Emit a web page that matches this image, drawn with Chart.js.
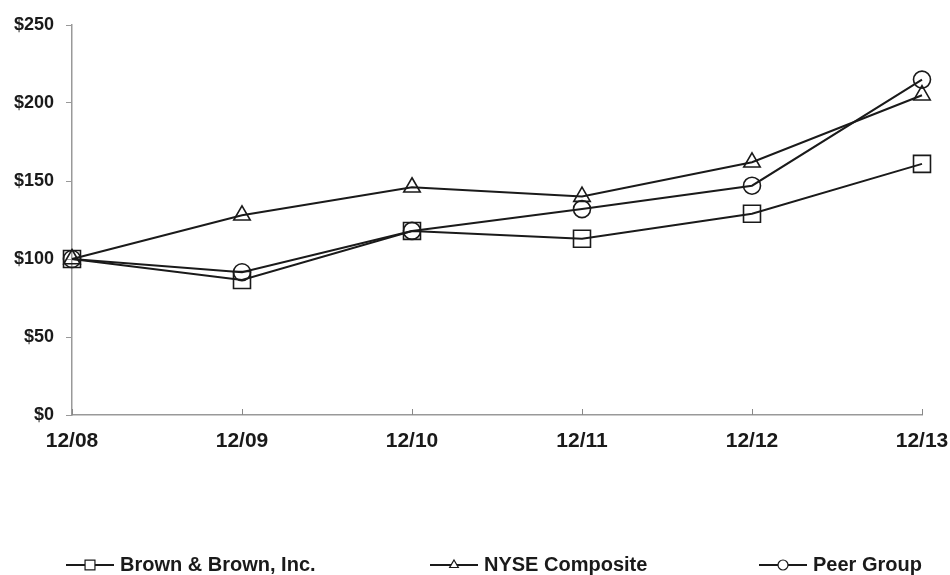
<!DOCTYPE html>
<html>
<head>
<meta charset="utf-8">
<script src="https://cdn.jsdelivr.net/npm/chart.js@4"></script>
<style>
html,body{margin:0;padding:0;background:#fff;}
#wrap{width:950px;height:575px;position:relative;}
</style>
</head>
<body>
<div id="wrap"><canvas id="c" width="950" height="575"></canvas></div>
<script>
const categories = ['12/08','12/09','12/10','12/11','12/12','12/13'];
const brownValues = [100, 86.5, 118, 113, 129, 161];
const nyseValues = [100, 128, 146, 140, 162, 205];
const peerValues = [100, 91.5, 118, 132, 147, 215];
const seriesNames = ['Brown & Brown, Inc.', 'NYSE Composite', 'Peer Group'];
const yTicks = [0, 50, 100, 150, 200, 250];

const FAMILY = '"Liberation Sans", Arial, sans-serif';
const INK = '#1a1a1a';

const xInnerTicks = {
  id: 'xInnerTicks',
  afterDatasetsDraw(chart) {
    const x = chart.scales.x, ctx = chart.ctx, b = chart.chartArea.bottom;
    ctx.save();
    ctx.strokeStyle = '#888'; ctx.lineWidth = 1;
    x.ticks.forEach((t, i) => {
      const px = Math.round(x.getPixelForTick(i)) + 0.5;
      ctx.beginPath(); ctx.moveTo(px, b); ctx.lineTo(px, b - 6); ctx.stroke();
    });
    ctx.restore();
  }
};

const bottomLegend = {
  id: 'bottomLegend',
  afterDraw(chart) {
    const ctx = chart.ctx;
    const starts = [66, 430, 759];
    const y = 565;
    ctx.save();
    chart.data.datasets.forEach((ds, i) => {
      const x0 = starts[i];
      ctx.strokeStyle = INK; ctx.lineWidth = 2;
      ctx.beginPath(); ctx.moveTo(x0, y); ctx.lineTo(x0 + 48, y); ctx.stroke();
      ctx.fillStyle = '#fff'; ctx.lineWidth = 1.2;
      const r = ds.pointStyle === 'rect' ? 7 : 5;
      Chart.helpers.drawPoint(ctx, {pointStyle: ds.pointStyle, rotation: 0, radius: r, borderWidth: 1.2}, x0 + 24, y);
      ctx.fillStyle = INK;
      ctx.font = 'bold 20px ' + FAMILY;
      ctx.textBaseline = 'middle'; ctx.textAlign = 'left';
      ctx.fillText(ds.label, x0 + 54, y);
    });
    ctx.restore();
  }
};

new Chart(document.getElementById('c'), {
  type: 'line',
  data: {
    labels: categories,
    datasets: [
      {label: seriesNames[0], data: brownValues, pointStyle: 'rect', pointRadius: 12, pointHoverRadius: 12},
      {label: seriesNames[1], data: nyseValues, pointStyle: 'triangle', pointRadius: 9.5, pointHoverRadius: 9.5},
      {label: seriesNames[2], data: peerValues, pointStyle: 'circle', pointRadius: 8.5, pointHoverRadius: 8.5}
    ].map(d => Object.assign(d, {
      borderColor: INK, borderWidth: 2, backgroundColor: '#fff',
      pointBackgroundColor: 'rgba(255,255,255,0)', pointBorderColor: INK, pointBorderWidth: 1.6,
      tension: 0, fill: false
    }))
  },
  options: {
    responsive: false,
    animation: false,
    layout: {padding: {left: 0, right: 28, top: 25, bottom: 0}},
    plugins: {legend: {display: false}, tooltip: {enabled: false}},
    scales: {
      x: {
        type: 'category', offset: false,
        grid: {drawOnChartArea: false, drawTicks: false, tickLength: 0},
        border: {color: '#999', width: 1.5},
        ticks: {font: {family: FAMILY, size: 21, weight: 'bold'}, color: INK, padding: 14, maxRotation: 0, autoSkip: false},
        afterFit: s => { s.height = 160; s.paddingLeft = 0; s.paddingRight = 0; }
      },
      y: {
        min: 0, max: 250,
        afterBuildTicks: s => { s.ticks = yTicks.map(v => ({value: v})); },
        grid: {drawOnChartArea: false, tickLength: 6, color: '#999'},
        border: {color: '#999', width: 1.5},
        ticks: {font: {family: FAMILY, size: 18, weight: 'bold'}, color: INK, padding: 12, callback: v => '$' + v},
        afterFit: s => { s.width = 72; s.paddingTop = 0; s.paddingBottom = 0; }
      }
    }
  },
  plugins: [xInnerTicks, bottomLegend]
});
</script>
</body>
</html>
